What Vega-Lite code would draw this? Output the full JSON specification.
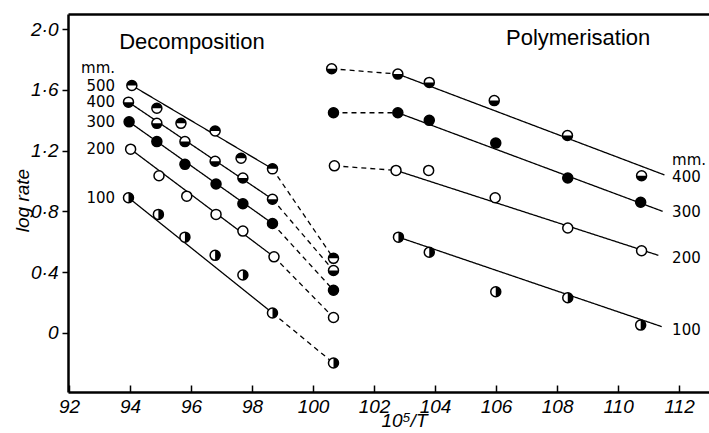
{
  "$schema": "https://vega.github.io/schema/vega-lite/v6.json",
  "width": 641,
  "height": 378,
  "autosize": {"type": "none"},
  "padding": {"left": 68, "top": 14, "right": 0, "bottom": 41},
  "background": "white",
  "config": {
    "view": {"stroke": null},
    "axis": {
      "grid": false,
      "domainColor": "black",
      "tickColor": "black",
      "labelColor": "black",
      "titleColor": "black",
      "labelFont": "Liberation Sans",
      "titleFont": "Liberation Sans",
      "labelFontStyle": "italic",
      "titleFontStyle": "italic",
      "labelFontSize": 19,
      "titleFontSize": 19,
      "titleFontWeight": "normal"
    }
  },
  "datasets": {
    "points": [
      {"panel": "Decomposition", "p": "500", "T": 94.06, "rate": 1.63},
      {"panel": "Decomposition", "p": "500", "T": 94.88, "rate": 1.48},
      {"panel": "Decomposition", "p": "500", "T": 95.67, "rate": 1.38},
      {"panel": "Decomposition", "p": "500", "T": 96.79, "rate": 1.33},
      {"panel": "Decomposition", "p": "500", "T": 97.64, "rate": 1.15},
      {"panel": "Decomposition", "p": "500", "T": 98.67, "rate": 1.08},
      {"panel": "Decomposition", "p": "500", "T": 100.67, "rate": 0.49},
      {"panel": "Decomposition", "p": "400", "T": 93.95, "rate": 1.52},
      {"panel": "Decomposition", "p": "400", "T": 94.88, "rate": 1.38},
      {"panel": "Decomposition", "p": "400", "T": 95.8, "rate": 1.26},
      {"panel": "Decomposition", "p": "400", "T": 96.79, "rate": 1.13},
      {"panel": "Decomposition", "p": "400", "T": 97.7, "rate": 1.02},
      {"panel": "Decomposition", "p": "400", "T": 98.67, "rate": 0.88},
      {"panel": "Decomposition", "p": "400", "T": 100.67, "rate": 0.41},
      {"panel": "Decomposition", "p": "300", "T": 93.97, "rate": 1.39},
      {"panel": "Decomposition", "p": "300", "T": 94.88, "rate": 1.26},
      {"panel": "Decomposition", "p": "300", "T": 95.8, "rate": 1.11},
      {"panel": "Decomposition", "p": "300", "T": 96.82, "rate": 0.98},
      {"panel": "Decomposition", "p": "300", "T": 97.7, "rate": 0.85},
      {"panel": "Decomposition", "p": "300", "T": 98.67, "rate": 0.72},
      {"panel": "Decomposition", "p": "300", "T": 100.67, "rate": 0.28},
      {"panel": "Decomposition", "p": "200", "T": 94.02, "rate": 1.21},
      {"panel": "Decomposition", "p": "200", "T": 94.95, "rate": 1.035},
      {"panel": "Decomposition", "p": "200", "T": 95.86, "rate": 0.9},
      {"panel": "Decomposition", "p": "200", "T": 96.82, "rate": 0.78},
      {"panel": "Decomposition", "p": "200", "T": 97.7, "rate": 0.67},
      {"panel": "Decomposition", "p": "200", "T": 98.72, "rate": 0.5},
      {"panel": "Decomposition", "p": "200", "T": 100.67, "rate": 0.1},
      {"panel": "Decomposition", "p": "100", "T": 93.95, "rate": 0.89},
      {"panel": "Decomposition", "p": "100", "T": 94.93, "rate": 0.78},
      {"panel": "Decomposition", "p": "100", "T": 95.8, "rate": 0.63},
      {"panel": "Decomposition", "p": "100", "T": 96.79, "rate": 0.51},
      {"panel": "Decomposition", "p": "100", "T": 97.7, "rate": 0.38},
      {"panel": "Decomposition", "p": "100", "T": 98.67, "rate": 0.13},
      {"panel": "Decomposition", "p": "100", "T": 100.67, "rate": -0.2},
      {"panel": "Polymerisation", "p": "400", "T": 100.61, "rate": 1.74},
      {"panel": "Polymerisation", "p": "400", "T": 102.78, "rate": 1.705},
      {"panel": "Polymerisation", "p": "400", "T": 103.81, "rate": 1.65},
      {"panel": "Polymerisation", "p": "400", "T": 105.94, "rate": 1.53},
      {"panel": "Polymerisation", "p": "400", "T": 108.34, "rate": 1.3},
      {"panel": "Polymerisation", "p": "400", "T": 110.77, "rate": 1.035},
      {"panel": "Polymerisation", "p": "300", "T": 100.67, "rate": 1.45},
      {"panel": "Polymerisation", "p": "300", "T": 102.78, "rate": 1.45},
      {"panel": "Polymerisation", "p": "300", "T": 103.81, "rate": 1.4},
      {"panel": "Polymerisation", "p": "300", "T": 105.99, "rate": 1.25},
      {"panel": "Polymerisation", "p": "300", "T": 108.35, "rate": 1.02},
      {"panel": "Polymerisation", "p": "300", "T": 110.74, "rate": 0.86},
      {"panel": "Polymerisation", "p": "200", "T": 100.7, "rate": 1.1},
      {"panel": "Polymerisation", "p": "200", "T": 102.72, "rate": 1.07},
      {"panel": "Polymerisation", "p": "200", "T": 103.79, "rate": 1.07},
      {"panel": "Polymerisation", "p": "200", "T": 105.97, "rate": 0.89},
      {"panel": "Polymerisation", "p": "200", "T": 108.35, "rate": 0.69},
      {"panel": "Polymerisation", "p": "200", "T": 110.77, "rate": 0.54},
      {"panel": "Polymerisation", "p": "100", "T": 102.8, "rate": 0.63},
      {"panel": "Polymerisation", "p": "100", "T": 103.81, "rate": 0.53},
      {"panel": "Polymerisation", "p": "100", "T": 105.99, "rate": 0.27},
      {"panel": "Polymerisation", "p": "100", "T": 108.35, "rate": 0.23},
      {"panel": "Polymerisation", "p": "100", "T": 110.74, "rate": 0.05}
    ],
    "lines": [
      {"seg": "D500 fit", "kind": "fit", "T": 94.06, "rate": 1.63},
      {"seg": "D500 fit", "kind": "fit", "T": 98.67, "rate": 1.08},
      {"seg": "D400 fit", "kind": "fit", "T": 93.95, "rate": 1.52},
      {"seg": "D400 fit", "kind": "fit", "T": 98.67, "rate": 0.88},
      {"seg": "D300 fit", "kind": "fit", "T": 93.97, "rate": 1.39},
      {"seg": "D300 fit", "kind": "fit", "T": 98.67, "rate": 0.72},
      {"seg": "D200 fit", "kind": "fit", "T": 94.02, "rate": 1.21},
      {"seg": "D200 fit", "kind": "fit", "T": 98.72, "rate": 0.5},
      {"seg": "D100 fit", "kind": "fit", "T": 93.95, "rate": 0.89},
      {"seg": "D100 fit", "kind": "fit", "T": 98.67, "rate": 0.13},
      {"seg": "D500 ext", "kind": "extrapolated", "T": 98.67, "rate": 1.08},
      {"seg": "D500 ext", "kind": "extrapolated", "T": 100.67, "rate": 0.49},
      {"seg": "D400 ext", "kind": "extrapolated", "T": 98.67, "rate": 0.88},
      {"seg": "D400 ext", "kind": "extrapolated", "T": 100.67, "rate": 0.41},
      {"seg": "D300 ext", "kind": "extrapolated", "T": 98.67, "rate": 0.72},
      {"seg": "D300 ext", "kind": "extrapolated", "T": 100.67, "rate": 0.28},
      {"seg": "D200 ext", "kind": "extrapolated", "T": 98.72, "rate": 0.5},
      {"seg": "D200 ext", "kind": "extrapolated", "T": 100.67, "rate": 0.1},
      {"seg": "D100 ext", "kind": "extrapolated", "T": 98.67, "rate": 0.13},
      {"seg": "D100 ext", "kind": "extrapolated", "T": 100.67, "rate": -0.2},
      {"seg": "P400 fit", "kind": "fit", "T": 102.78, "rate": 1.705},
      {"seg": "P400 fit", "kind": "fit", "T": 111.52, "rate": 1.04},
      {"seg": "P300 fit", "kind": "fit", "T": 102.78, "rate": 1.45},
      {"seg": "P300 fit", "kind": "fit", "T": 111.46, "rate": 0.8},
      {"seg": "P200 fit", "kind": "fit", "T": 102.72, "rate": 1.07},
      {"seg": "P200 fit", "kind": "fit", "T": 111.32, "rate": 0.51},
      {"seg": "P100 fit", "kind": "fit", "T": 102.8, "rate": 0.63},
      {"seg": "P100 fit", "kind": "fit", "T": 111.43, "rate": 0.04},
      {"seg": "P400 ext", "kind": "extrapolated", "T": 100.61, "rate": 1.74},
      {"seg": "P400 ext", "kind": "extrapolated", "T": 102.78, "rate": 1.705},
      {"seg": "P300 ext", "kind": "extrapolated", "T": 100.67, "rate": 1.45},
      {"seg": "P300 ext", "kind": "extrapolated", "T": 102.78, "rate": 1.45},
      {"seg": "P200 ext", "kind": "extrapolated", "T": 100.7, "rate": 1.1},
      {"seg": "P200 ext", "kind": "extrapolated", "T": 102.72, "rate": 1.07}
    ],
    "labels": [
      {"side": "left", "text": "mm.", "T": 93.51, "rate": 1.745},
      {"side": "left", "text": "500", "T": 93.51, "rate": 1.628},
      {"side": "left", "text": "400", "T": 93.51, "rate": 1.519},
      {"side": "left", "text": "300", "T": 93.51, "rate": 1.389},
      {"side": "left", "text": "200", "T": 93.51, "rate": 1.211},
      {"side": "left", "text": "100", "T": 93.51, "rate": 0.888},
      {"side": "right", "text": "mm.", "T": 111.77, "rate": 1.137},
      {"side": "right", "text": "400", "T": 111.77, "rate": 1.024},
      {"side": "right", "text": "300", "T": 111.77, "rate": 0.795},
      {"side": "right", "text": "200", "T": 111.77, "rate": 0.492},
      {"side": "right", "text": "100", "T": 111.77, "rate": 0.018}
    ],
    "panels": [
      {"text": "Decomposition", "T": 96.03, "rate": 1.916},
      {"text": "Polymerisation", "T": 108.69, "rate": 1.943}
    ]
  },
  "resolve": {"axis": {"x": "independent"}},
  "layer": [
    {
      "data": {"name": "lines"},
      "mark": {"type": "line", "color": "black", "strokeWidth": 1.3},
      "encoding": {
        "x": {
          "field": "T", "type": "quantitative",
          "scale": {"domain": [91.967, 112.98], "nice": false, "zero": false},
          "axis": {
            "orient": "bottom",
            "values": [92, 94, 96, 98, 100, 102, 104, 106, 108, 110, 112],
            "title": "10⁵/T",
            "tickSize": -7,
            "tickWidth": 1.5,
            "labelPadding": 12,
            "domainWidth": 2.5,
            "titleX": 336,
            "titleY": 19,
            "titleBaseline": "top",
            "titleAlign": "center"
          }
        },
        "y": {
          "field": "rate", "type": "quantitative",
          "scale": {"domain": [-0.391, 2.101], "nice": false, "zero": false},
          "axis": {
            "orient": "left",
            "values": [0, 0.4, 0.8, 1.2, 1.6, 2.0],
            "labelExpr": "datum.value == 0 ? '0' : replace(format(datum.value, '.1f'), '.', '·')",
            "title": "log rate",
            "tickSize": 6,
            "tickWidth": 1.5,
            "labelPadding": 4,
            "domainWidth": 2.5,
            "titleX": -46,
            "titleY": 186,
            "titleBaseline": "middle",
            "titleAlign": "center"
          }
        },
        "detail": {"field": "seg"},
        "strokeDash": {
          "field": "kind", "type": "nominal",
          "scale": {"domain": ["fit", "extrapolated"], "range": [[1, 0], [5, 4]]},
          "legend": null
        }
      }
    },
    {
      "data": {"name": "points"},
      "mark": {"type": "point", "shape": "M -1 0 A 1 1 0 1 0 1 0 A 1 1 0 1 0 -1 0 Z", "filled": true, "fill": "white", "stroke": "black", "strokeWidth": 1.5, "size": 100, "opacity": 1},
      "encoding": {
        "x": {"field": "T", "type": "quantitative", "axis": null},
        "y": {"field": "rate", "type": "quantitative"}
      }
    },
    {
      "data": {"name": "points"},
      "transform": [{"filter": "datum.p != '200'"}],
      "mark": {"type": "point", "filled": true, "fill": "black", "strokeWidth": 0, "size": 100, "opacity": 1},
      "encoding": {
        "x": {"field": "T", "type": "quantitative", "axis": null},
        "y": {"field": "rate", "type": "quantitative"},
        "shape": {
          "field": "p", "type": "nominal",
          "scale": {
            "domain": ["500", "400", "300", "100"],
            "range": [
              "M -1 0 A 1 1 0 0 1 1 0 Z",
              "M -1 0 A 1 1 0 0 0 1 0 Z",
              "M -1 0 A 1 1 0 1 0 1 0 A 1 1 0 1 0 -1 0 Z",
              "M 0 -1 A 1 1 0 0 1 0 1 Z"
            ]
          },
          "legend": null
        }
      }
    },
    {
      "data": {"name": "labels"},
      "transform": [{"filter": "datum.side == 'left'"}],
      "mark": {"type": "text", "align": "right", "baseline": "middle", "font": "DejaVu Sans", "fontSize": 15, "color": "black"},
      "encoding": {
        "x": {"field": "T", "type": "quantitative", "axis": null},
        "y": {"field": "rate", "type": "quantitative"},
        "text": {"field": "text"}
      }
    },
    {
      "data": {"name": "labels"},
      "transform": [{"filter": "datum.side == 'right'"}],
      "mark": {"type": "text", "align": "left", "baseline": "middle", "font": "DejaVu Sans", "fontSize": 15, "color": "black"},
      "encoding": {
        "x": {"field": "T", "type": "quantitative", "axis": null},
        "y": {"field": "rate", "type": "quantitative"},
        "text": {"field": "text"}
      }
    },
    {
      "data": {"name": "panels"},
      "mark": {"type": "text", "align": "center", "baseline": "middle", "font": "Liberation Sans", "fontSize": 22, "color": "black"},
      "encoding": {
        "x": {
          "field": "T", "type": "quantitative",
          "axis": {"orient": "top", "labels": false, "ticks": false, "title": null, "domainWidth": 2.5}
        },
        "y": {"field": "rate", "type": "quantitative"},
        "text": {"field": "text"}
      }
    }
  ]
}
